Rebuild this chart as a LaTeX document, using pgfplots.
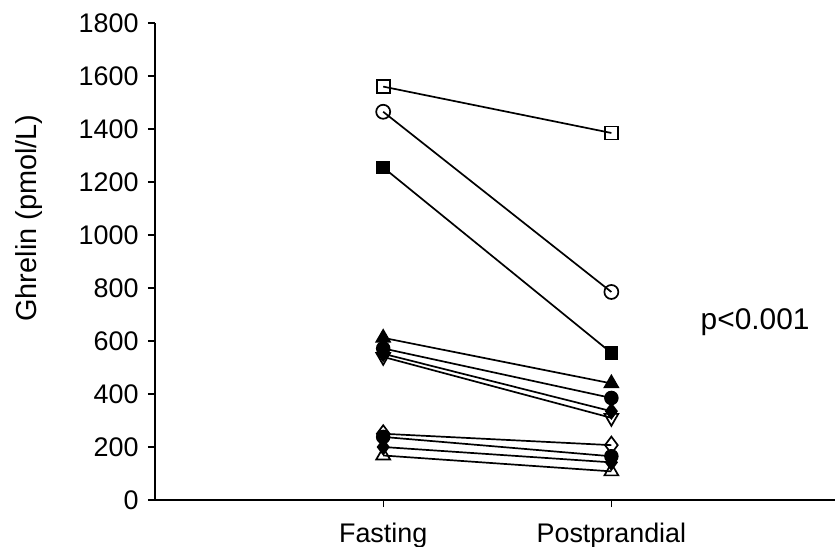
\documentclass[border=0pt]{standalone}
\usepackage{fontspec}
\setmainfont{Liberation Sans}
\usepackage{pgfplots}
\pgfplotsset{compat=1.18}
\begin{document}
\begin{tikzpicture}
\begin{axis}[
  name=ax, at={(0,0)}, anchor=south west,
  scale only axis, width=680bp, height=477bp,
  xmin=0, xmax=2.98, ymin=0, ymax=1800,
  axis x line=bottom, axis y line=left,
  axis line style={-, line width=1.3bp},
  tick align=outside, major tick length=7bp,
  tick style={line width=1.3bp, black},
  xtick={1,2}, xticklabels={Fasting, Postprandial},
  ytick={0,200,...,1800},
  /pgf/number format/assume math mode=true,
  /pgf/number format/1000 sep={},
  ticklabel style={font=\fontsize{27}{32}\selectfont},
  yticklabel style={xshift=-6bp},
  xticklabel style={yshift=-12bp},
  ylabel={Ghrelin (pmol/L)},
  every axis y label/.style={at={(-126bp,282bp)}, rotate=90, anchor=center, font=\fontsize{29}{34}\selectfont},
  every axis plot/.append style={black, line width=1.7bp, mark options={solid, line width=1.5bp}},
  clip=false,
]
\addplot[mark=square, mark size=6.5bp, mark options={fill=white}] coordinates {(1,1560) (2,1385)};
\addplot[mark=o, mark size=7bp, mark options={fill=white}] coordinates {(1,1465) (2,785)};
\addplot[mark=square*, mark size=6bp] coordinates {(1,1255) (2,555)};
\addplot[mark=triangle, mark size=8bp, mark options={rotate=180, fill=white}] coordinates {(1,540) (2,310)};
\addplot[mark=diamond*, mark size=7.5bp] coordinates {(1,552) (2,335)};
\addplot[mark=*, mark size=6.5bp] coordinates {(1,572) (2,385)};
\addplot[mark=triangle*, mark size=8bp] coordinates {(1,612) (2,440)};
\addplot[mark=triangle, mark size=8bp, mark options={fill=white}] coordinates {(1,168) (2,108)};
\addplot[mark=diamond*, mark size=7.5bp] coordinates {(1,200) (2,142)};
\addplot[mark=*, mark size=6.5bp] coordinates {(1,238) (2,165)};
\addplot[mark=diamond, mark size=8.5bp, mark options={fill=white}] coordinates {(1,250) (2,207)};
\node[font=\fontsize{30}{34}\selectfont] at (axis cs:2.63,672) {p<0.001};
\end{axis}
\pgfresetboundingbox
\path[use as bounding box] (-155bp,-47bp) rectangle (680bp,500bp);
\end{tikzpicture}
\end{document}
